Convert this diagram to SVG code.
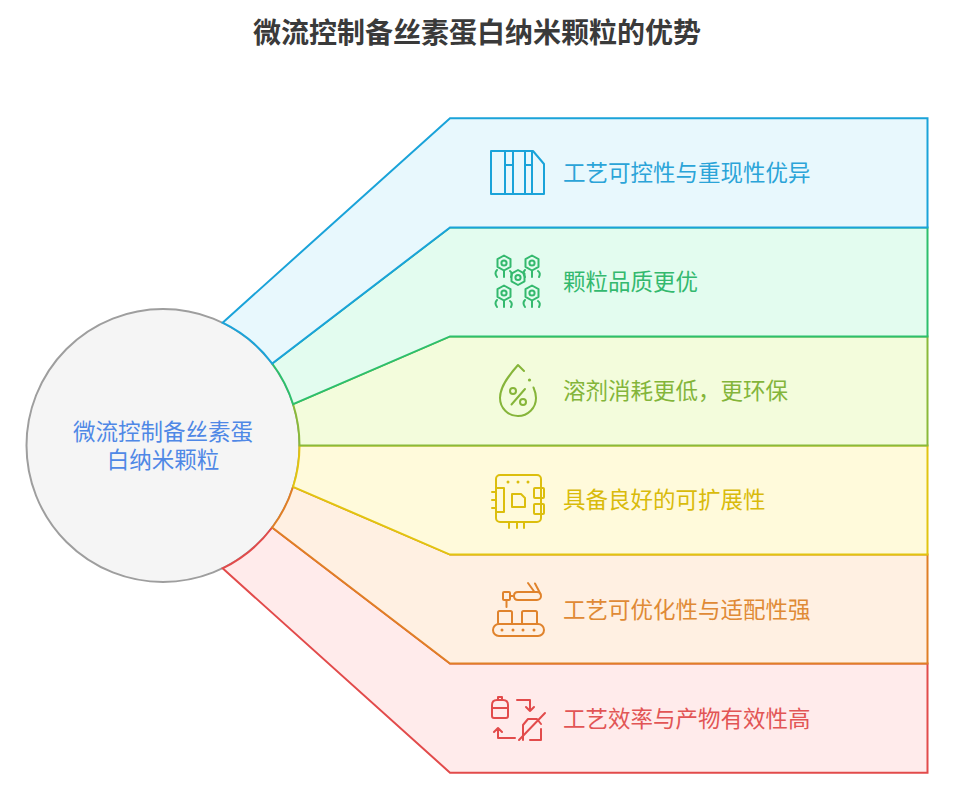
<svg xmlns="http://www.w3.org/2000/svg" width="955" height="790" viewBox="0 0 955 790">
<style>
.t{font-family:"Noto Sans CJK SC","Noto Sans",sans-serif;font-size:22.5px}
.title{font-family:"Noto Sans CJK SC","Noto Sans",sans-serif;font-size:28px;font-weight:bold;fill:#3a3a3a}
.band{stroke-width:2;stroke-linejoin:miter}
.ic{fill:none;stroke-width:2;stroke-linecap:round;stroke-linejoin:round}
</style>
<rect width="955" height="790" fill="#ffffff"/>
<text class="title" x="477" y="43" text-anchor="middle">微流控制备丝素蛋白纳米颗粒的优势</text>

<g id="center">
<circle cx="163" cy="445.5" r="136.5" fill="#f5f5f5" stroke="#9e9e9e" stroke-width="2"/>
<text class="t" text-anchor="middle" fill="#4f88e6"><tspan x="163" y="440">微流控制备丝素蛋</tspan><tspan x="163" y="468">白纳米颗粒</tspan></text>
</g>

<g id="connectors">
<path class="band" fill="#ffebeb" stroke="#e24b4b" d="M272.2 527.5 L450 663.6 L927.5 663.6 L927.5 772.7 L450 772.7 L222.6 568.3 A136.5 136.5 0 0 0 272.2 527.5 Z"/>
<path class="band" fill="#fff0e2" stroke="#e07f26" d="M293.1 486.8 L450 554.6 L927.5 554.6 L927.5 663.6 L450 663.6 L272.2 527.5 A136.5 136.5 0 0 0 293.1 486.8 Z"/>
<path class="band" fill="#fffadb" stroke="#e2c410" d="M299.5 445.5 L927.5 445.5 L927.5 554.6 L450 554.6 L293.1 486.8 A136.5 136.5 0 0 0 299.5 445.5 Z"/>
<path class="band" fill="#f3fcdc" stroke="#8ab93a" d="M293.1 404.2 L450 336.4 L927.5 336.4 L927.5 445.5 L299.5 445.5 A136.5 136.5 0 0 0 293.1 404.2 Z"/>
<path class="band" fill="#e3fcef" stroke="#2dbf6c" d="M272.2 363.5 L450 227.4 L927.5 227.4 L927.5 336.4 L450 336.4 L293.1 404.2 A136.5 136.5 0 0 0 272.2 363.5 Z"/>
<path class="band" fill="#e8f8fd" stroke="#1aa3d9" d="M222.6 322.7 L450 118.3 L927.5 118.3 L927.5 227.4 L450 227.4 L272.2 363.5 A136.5 136.5 0 0 0 222.6 322.7 Z"/>
</g>

<g id="item1">
<g class="ic" stroke="#1aa3d9">
<path d="M491 151 L533 151 L544 164 L544 194 L491 194 Z"/>
<path d="M505 151 L505 194 M513 151 L513 194 M525 151 L525 194 M532 151 L532 194"/>
<path d="M505 165 L513 165 M525 165 L532 165"/>
</g>
<text class="t" x="563" y="181.3" fill="#2ba4d8">工艺可控性与重现性优异</text>
</g>

<g id="item2">
<g class="ic" stroke="#34b96e">
<path d="M504 255.5 L510.5 259.2 L510.5 266.8 L504 270.5 L497.5 266.8 L497.5 259.2 Z"/>
<circle cx="504" cy="263" r="2.6"/>
<path d="M532 255.5 L538.5 259.2 L538.5 266.8 L532 270.5 L525.5 266.8 L525.5 259.2 Z"/>
<circle cx="532" cy="263" r="2.6"/>
<path d="M518 270 L524.5 273.7 L524.5 281.3 L518 285 L511.5 281.3 L511.5 273.7 Z"/>
<circle cx="518" cy="277.5" r="2.6"/>
<path d="M504 285.5 L510.5 289.2 L510.5 296.8 L504 300.5 L497.5 296.8 L497.5 289.2 Z"/>
<circle cx="504" cy="293" r="2.6"/>
<path d="M532 285.5 L538.5 289.2 L538.5 296.8 L532 300.5 L525.5 296.8 L525.5 289.2 Z"/>
<circle cx="532" cy="293" r="2.6"/>
<path d="M497 270 Q494 273 497 277 M504 271 L504 277 M510 271 Q513 273 511 277"/>
<path d="M525 270 Q522 273 525 277 M532 271 L532 277 M538 271 Q541 273 539 277"/>
<path d="M497 300 Q494 303 497 307 M504 301 L504 307 M510 301 Q513 303 511 307"/>
<path d="M525 300 Q522 303 525 307 M532 301 L532 307 M538 301 Q541 303 539 307"/>
</g>
<text class="t" x="563" y="290.4" fill="#34b96e">颗粒品质更优</text>
</g>

<g id="item3">
<g class="ic" stroke="#86b53a">
<path d="M524 371 L518 365 C510 374 500 386 500 398 A18 18 0 0 0 536 398 C536 394 535 391 533.5 387.5"/>
<circle cx="513" cy="391" r="3"/>
<circle cx="523" cy="402" r="3"/>
<path d="M511.5 404.5 L525 389"/>
</g>
<circle cx="529.5" cy="380" r="1.6" fill="#86b53a"/>
<text class="t" x="563" y="399.4" fill="#83b53a">溶剂消耗更低，更环保</text>
</g>

<g id="item4">
<g class="ic" stroke="#dcbe0d">
<rect x="496" y="475" width="45" height="47" rx="4"/>
<path d="M496 488 L504 488 L504 512 L496 512"/>
<path d="M492 492 L496 492 M492 500 L496 500 M492 508 L496 508"/>
<rect x="534" y="488" width="10" height="10" rx="1"/>
<rect x="534" y="504" width="10" height="10" rx="1"/>
<path d="M512 494 L521 494 L525 498 L525 507 L512 507 Z"/>
<path d="M509 522 L509 528 M517 522 L517 528 M524 522 L524 528"/>
</g>
<g fill="#dcbe0d">
<circle cx="508" cy="482" r="1.5"/><circle cx="518" cy="482" r="1.5"/><circle cx="528" cy="482" r="1.5"/>
</g>
<text class="t" x="563" y="508.4" fill="#d9bb0b">具备良好的可扩展性</text>
</g>

<g id="item5">
<g class="ic" stroke="#e0832c">
<rect x="493" y="624" width="51" height="12" rx="6"/>
<rect x="498" y="611" width="14" height="13" rx="1.5"/>
<rect x="522" y="611" width="15" height="13" rx="1.5"/>
<rect x="503" y="592" width="7" height="8" rx="1"/>
<path d="M506.5 600 L506.5 607"/>
<path d="M510 596 L514 596 M514 596 Q514 592 518 592 L537 592 A4 4 0 0 1 537 600 L518 600 Q514 600 514 596"/>
<path d="M534.5 592 L528 583 M540.5 594 L535 583.5"/>
</g>
<g fill="#e0832c">
<circle cx="502" cy="630" r="1.5"/><circle cx="513" cy="630" r="1.5"/><circle cx="523" cy="630" r="1.5"/><circle cx="534" cy="630" r="1.5"/>
</g>
<text class="t" x="563" y="617.5" fill="#e08a35">工艺可优化性与适配性强</text>
</g>

<g id="item6">
<g class="ic" stroke="#e24b4b">
<path d="M492 705 Q492 700 497 700 L503 700 Q508 700 508 705 L508 716 Q508 718 506 718 L494 718 Q492 718 492 716 Z"/>
<path d="M498 697 L502 697 L502 700 M498 697 L498 700 M492 708 L508 708"/>
<path d="M517 700 L530 700 L530 711 M526 707 L530 711 L534 707"/>
<path d="M515 738 L498 738 L498 728 M494 732 L498 728 L502 732"/>
<path d="M523 740 L523 725 L528 719 L537 719 L541 724 M541 729 L541 740 L530 740"/>
<path d="M519 740 L545 713"/>
</g>
<text class="t" x="563" y="726.6" fill="#e25555">工艺效率与产物有效性高</text>
</g>
</svg>
